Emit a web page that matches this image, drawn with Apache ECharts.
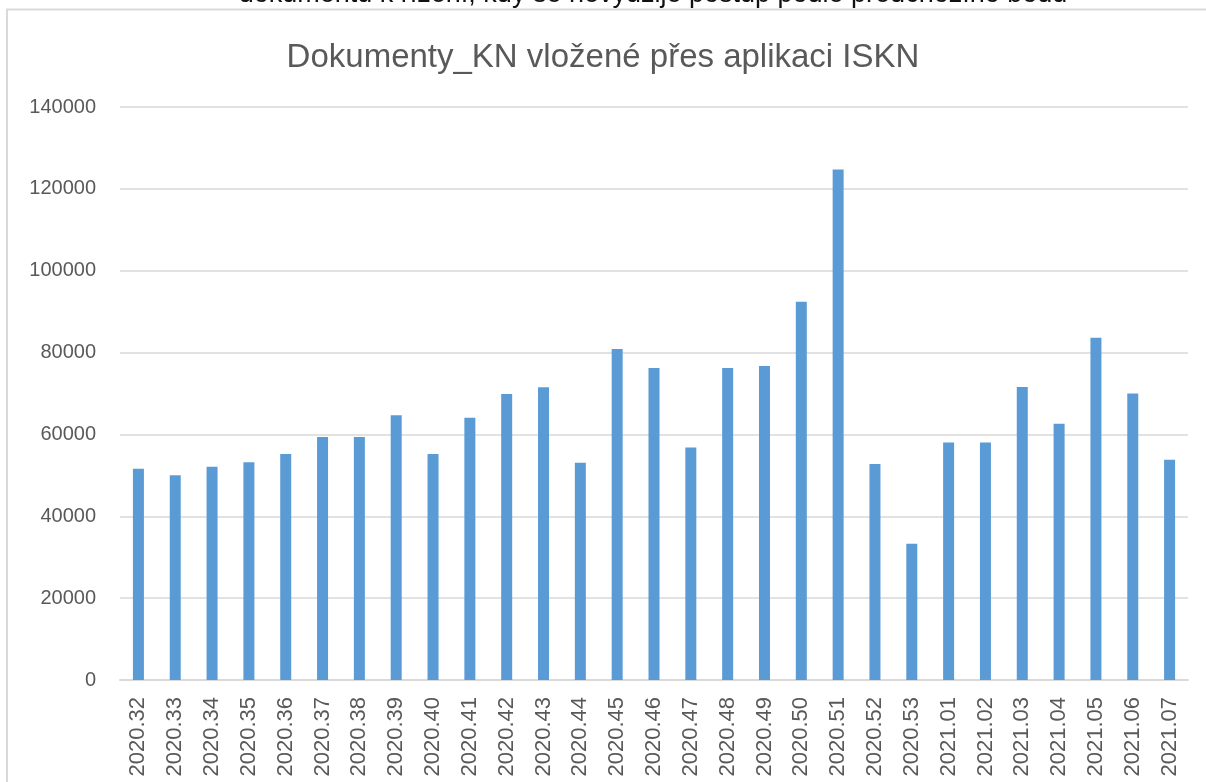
<!DOCTYPE html>
<html>
<head>
<meta charset="utf-8">
<script src="https://cdn.jsdelivr.net/npm/echarts@6/dist/echarts.min.js"></script>
<style>
  html, body { margin: 0; padding: 0; background: #fff; }
  #chart { width: 1206px; height: 782px; }
</style>
</head>
<body>
<div id="chart"></div>
<script>
var weeks = ['2020.32', '2020.33', '2020.34', '2020.35', '2020.36', '2020.37', '2020.38', '2020.39',
  '2020.40', '2020.41', '2020.42', '2020.43', '2020.44', '2020.45', '2020.46', '2020.47', '2020.48',
  '2020.49', '2020.50', '2020.51', '2020.52', '2020.53', '2021.01', '2021.02', '2021.03', '2021.04',
  '2021.05', '2021.06', '2021.07'];

var documents = [51600, 50000, 52100, 53200, 55200, 59400, 59400, 64700,
  55200, 64100, 69900, 71500, 53100, 80900, 76200, 56800, 76200,
  76700, 92400, 124700, 52800, 33300, 58000, 58000, 71600, 62600,
  83600, 70000, 53800];

var titleText = 'Dokumenty_KN vložené přes aplikaci ISKN';
// text of the page above the chart, mostly cut off by the top edge
var cutText = 'dokumentu k řízení, kdy se nevyužije postup podle předchozího bodu';

var chart = echarts.init(document.getElementById('chart'));

var option = {
  backgroundColor: '#fff',
  animation: false,
  textStyle: { fontFamily: 'Liberation Sans' },
  title: {
    text: titleText,
    left: 'center',
    top: 36,
    textStyle: { fontSize: 33, fontWeight: 'normal', color: '#595959' }
  },
  graphic: [
    {
      type: 'rect',
      shape: { x: 7, y: 9.5, width: 1220, height: 800 },
      style: { fill: 'none', stroke: '#d9d9d9', lineWidth: 2 }
    },
    {
      type: 'text',
      x: 653,
      y: -19,
      style: {
        text: cutText,
        fill: '#111',
        font: '27px "Liberation Sans"',
        textAlign: 'center'
      }
    }
  ],
  grid: { left: 120, right: 18, top: 107, bottom: 102 },
  xAxis: {
    type: 'category',
    data: weeks,
    axisLine: { lineStyle: { color: '#d9d9d9', width: 2 } },
    axisTick: { show: false },
    axisLabel: { rotate: 90, fontSize: 22, color: '#595959', margin: 17, interval: 0 }
  },
  yAxis: {
    type: 'value',
    min: 0,
    max: 140000,
    interval: 20000,
    axisLine: { show: false },
    axisTick: { show: false },
    axisLabel: {
      fontSize: 20,
      color: '#595959',
      margin: 24,
      formatter: function (v) { return String(v); }
    },
    splitLine: { lineStyle: { color: '#d9d9d9', width: 1.5 } }
  },
  series: [
    {
      type: 'bar',
      data: documents,
      barWidth: 11,
      itemStyle: { color: '#5b9bd5' }
    }
  ]
};

chart.setOption(option);
</script>
</body>
</html>
